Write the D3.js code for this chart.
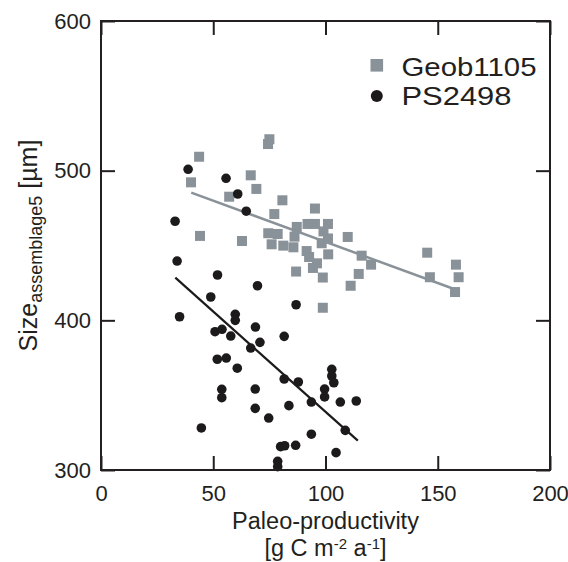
<!DOCTYPE html>
<html>
<head>
<meta charset="utf-8">
<script src="https://cdn.jsdelivr.net/npm/d3@7/dist/d3.min.js"></script>
<style>
  body { margin: 0; background: #fff; }
  text { font-family: "Liberation Sans", Arial, Helvetica, sans-serif; fill: #231f20; }
</style>
</head>
<body>
<svg id="chart" width="568" height="562"></svg>
<script>
// ---- data ----
const xTicks = [0, 50, 100, 150, 200];
const yTicks = [300, 400, 500, 600];
const seriesNames = ["Geob1105", "PS2498"];

const geobX = [43.7, 40.1, 66.7, 69.2, 57.1, 80.8, 77.2, 95.3, 44.1, 62.8, 75.0, 74.4, 74.5, 78.7, 76.0,
  81.2, 85.7, 87.2, 86.2, 92.0, 95.3, 101.1, 99.1, 101.1, 98.3, 91.6, 92.7, 96.2, 94.4, 101.2, 86.9,
  98.8, 109.9, 116.1, 120.3, 114.8, 111.2, 98.8, 145.3, 158.1, 159.3, 146.5, 157.7];
const geobY = [509.3, 492.2, 496.9, 487.8, 482.6, 480.2, 471.0, 474.7, 456.4, 453.0, 521.0, 517.8, 458.2, 457.7, 450.8,
  449.9, 448.8, 462.4, 455.9, 464.4, 464.4, 464.4, 459.4, 454.7, 451.5, 446.3, 442.3, 438.1, 435.0, 444.1, 432.6,
  428.6, 455.7, 443.2, 437.2, 431.0, 423.1, 408.4, 445.2, 437.2, 428.8, 428.8, 418.9];

const psX = [38.8, 55.7, 60.9, 64.7, 33.0, 33.9, 51.9, 69.7, 48.9, 86.9, 35.0, 59.8, 59.8, 68.8, 50.8, 53.9,
  57.8, 70.8, 66.7, 81.6, 51.8, 55.8, 60.7, 81.6, 87.9, 102.8, 102.8, 103.7, 53.8, 53.8, 68.7, 99.6, 99.6,
  93.7, 106.6, 113.7, 68.7, 83.7, 74.7, 44.7, 108.8, 93.7, 80.0, 81.8, 86.7, 104.7, 78.7, 78.7];
const psY = [500.9, 494.9, 484.4, 472.9, 466.2, 439.6, 430.3, 423.1, 415.6, 410.4, 402.4, 404.0, 400.0, 395.5, 392.4, 394.0,
  389.5, 385.3, 381.5, 389.3, 374.0, 374.8, 368.0, 360.8, 358.8, 367.3, 362.8, 358.3, 353.9, 348.3, 354.1, 354.1, 348.8,
  345.4, 345.4, 346.1, 341.2, 343.0, 334.7, 328.1, 326.5, 323.9, 315.6, 316.2, 316.5, 311.6, 305.8, 302.2];

// regression line end points
const geobFitX = [40.2, 159.7];
const geobFitY = [485.3, 419.6];
const psFitX = [33.1, 114.4];
const psFitY = [428.5, 319.6];

// ---- drawing ----
const ink = "#231f20";
const grey = "#8a9299";
const dark = "#1c1a1a";

const svg = d3.select("#chart");
const L = 101, R = 550, T = 21, B = 470;
const x = d3.scaleLinear().domain([0, 200]).range([L, R]);
const y = d3.scaleLinear().domain([300, 600]).range([B, T]);

// points & lines
svg.append("g").selectAll("rect").data(d3.range(geobX.length)).join("rect")
  .attr("x", i => x(geobX[i]) - 5).attr("y", i => y(geobY[i]) - 5)
  .attr("width", 10).attr("height", 10).attr("fill", grey);

const line = d3.line().x(d => x(d[0])).y(d => y(d[1]));
svg.append("path").datum(d3.zip(geobFitX, geobFitY)).attr("d", line)
  .attr("stroke", grey).attr("stroke-width", 2.5).attr("fill", "none");

svg.append("g").selectAll("circle").data(d3.range(psX.length)).join("circle")
  .attr("cx", i => x(psX[i])).attr("cy", i => y(psY[i])).attr("r", 4.8).attr("fill", dark);

svg.append("path").datum(d3.zip(psFitX, psFitY)).attr("d", line)
  .attr("stroke", dark).attr("stroke-width", 2.2).attr("fill", "none");

// axes
function styleAxis(g) {
  g.select(".domain").remove();
  g.selectAll(".tick line").attr("stroke", ink).attr("stroke-width", 2);
  g.selectAll(".tick text").attr("fill", ink).style("font-size", "22px")
    .style("font-family", '"Liberation Sans", Arial, sans-serif');
}
svg.append("g").attr("transform", `translate(0,${B})`)
  .call(d3.axisBottom(x).tickValues(xTicks).tickFormat(d3.format("d")).tickSizeInner(-14).tickSizeOuter(0).tickPadding(15))
  .call(styleAxis);
svg.append("g").attr("transform", `translate(${L},0)`)
  .call(d3.axisLeft(y).tickValues(yTicks).tickFormat(d3.format("d")).tickSizeInner(-14).tickSizeOuter(0).tickPadding(10))
  .call(styleAxis);
svg.append("g").attr("transform", `translate(0,${T})`)
  .call(d3.axisTop(x).tickValues(xTicks).tickFormat("").tickSizeInner(-14).tickSizeOuter(0))
  .call(styleAxis);
svg.append("g").attr("transform", `translate(${R},0)`)
  .call(d3.axisRight(y).tickValues(yTicks).tickFormat("").tickSizeInner(-14).tickSizeOuter(0))
  .call(styleAxis);

// frame
svg.append("rect").attr("x", L).attr("y", T).attr("width", R - L).attr("height", B - T)
  .attr("fill", "none").attr("stroke", ink).attr("stroke-width", 2);

// legend
svg.append("rect").attr("x", 370.5).attr("y", 59).attr("width", 12.6).attr("height", 12.6).attr("fill", grey);
svg.append("circle").attr("cx", 376.8).attr("cy", 96).attr("r", 6).attr("fill", dark);
svg.append("text").attr("x", 401.5).attr("y", 76).style("font-size", "25px")
  .attr("textLength", 135).attr("lengthAdjust", "spacingAndGlyphs").text(seriesNames[0]);
svg.append("text").attr("x", 401.5).attr("y", 105).style("font-size", "25px")
  .attr("textLength", 110).attr("lengthAdjust", "spacingAndGlyphs").text(seriesNames[1]);

// x axis title
const cx = (L + R) / 2;
svg.append("text").attr("x", cx).attr("y", 529).attr("text-anchor", "middle")
  .style("font-size", "23.5px").text("Paleo-productivity");
const xt2 = svg.append("text").attr("x", cx).attr("y", 555.5).attr("text-anchor", "middle").style("font-size", "23.5px");
xt2.append("tspan").text("[g C m");
xt2.append("tspan").attr("dy", -7).style("font-size", "15px").text("-2");
xt2.append("tspan").attr("dy", 7).text(" a");
xt2.append("tspan").attr("dy", -7).style("font-size", "15px").text("-1");
xt2.append("tspan").attr("dy", 7).text("]");

// y axis title
const yt = svg.append("text").attr("transform", `translate(37,${(T + B) / 2}) rotate(-90)`)
  .attr("text-anchor", "middle").style("font-size", "25px");
yt.append("tspan").text("Size");
yt.append("tspan").attr("dy", 5).style("font-size", "18px").text("assemblage5");
yt.append("tspan").attr("dy", -5).text(" [µm]");
</script>
</body>
</html>
